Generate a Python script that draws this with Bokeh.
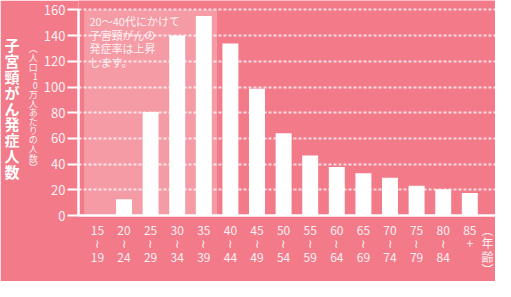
from bokeh.plotting import figure
from bokeh.models import Range1d, FixedTicker, Label, BoxAnnotation, LinearAxis
from bokeh.embed import file_html
from bokeh.resources import INLINE

# ---- data ----
age_from = ["15", "20", "25", "30", "35", "40", "45", "50", "55", "60", "65", "70", "75", "80", "85"]
age_to = ["19", "24", "29", "34", "39", "44", "49", "54", "59", "64", "69", "74", "79", "84", "+"]
incidence = [0.2, 12.6, 80.6, 140.1, 155.4, 133.9, 98.6, 64.0, 46.7, 37.7, 32.9, 29.4, 23.2, 20.4, 17.6]
y_ticks = [0, 20, 40, 60, 80, 100, 120, 140, 160]
highlight = ["15", "20", "25", "30", "35"]
note_lines = ["20〜40代にかけて", "子宮頸がんの", "発症率は上昇", "します。"]
y_title = "子宮頸がん発症人数"
y_subtitle = ["︵", "人", "口", "1", "0", "万", "人", "あ", "た", "り", "の", "人", "数", "︶"]
x_title = ["︵", "年", "齢", "︶"]

BG = "#F27A89"
TXT = "#FFF1F3"
FONT = "Noto Sans CJK JP"

W, H = 495, 281
FRAME_L, FRAME_T = 78, 0
MB_BOTTOM = 54
FRAME_W = W - FRAME_L
FRAME_H = H - MB_BOTTOM
STEP = 26.6                      # pixels per age group
X0 = -(5.6 + STEP / 2) / STEP
X1 = X0 + FRAME_W / STEP
Y0 = 0
Y1 = 160 + 10 * 160 / (FRAME_H - 10)   # 160 line 10px below the top


def dx(px):
    return X0 + (px - FRAME_L) * (X1 - X0) / FRAME_W


def dy(py):
    return Y1 - (py - FRAME_T) * (Y1 - Y0) / FRAME_H


xs = list(range(len(age_from)))
labels = {}
for i, (a, b) in enumerate(zip(age_from, age_to)):
    labels[i] = a + "\n" + ("≀\n" + b if b != "+" else b)
x_title_pos = dx(487)
labels[x_title_pos] = "\n".join(x_title)

p = figure(width=W, height=H, x_range=Range1d(X0, X1), y_range=Range1d(Y0, Y1),
           output_backend="svg", toolbar_location=None,
           min_border_left=FRAME_L, min_border_right=0, min_border_top=FRAME_T,
           min_border_bottom=MB_BOTTOM,
           background_fill_color=BG, border_fill_color=BG, outline_line_color=None)

# grid
p.xgrid.visible = False
p.ygrid.ticker = FixedTicker(ticks=y_ticks[1:])
p.ygrid.grid_line_color = "white"
p.ygrid.grid_line_alpha = 0.75
p.ygrid.grid_line_width = 2
p.ygrid.grid_line_dash = "3 2"

# highlighted age band
hi_idx = [age_from.index(h) for h in highlight]
p.add_layout(BoxAnnotation(left=min(hi_idx) - 0.5, right=max(hi_idx) + 0.5,
                           bottom=0, top=y_ticks[-1], fill_color="white", fill_alpha=0.25,
                           line_color=None, level="underlay"))

# bars
p.vbar(x=xs, top=incidence, width=0.6, fill_color="white", line_color=None)

# y axis (ticks + subtitle as its label)
ya = p.yaxis[0]
ya.ticker = FixedTicker(ticks=y_ticks)
ya.bounds = (y_ticks[0], y_ticks[-1])
ya.axis_line_color = "white"
ya.axis_line_width = 2.5
ya.major_tick_line_color = "white"
ya.major_tick_line_width = 2
ya.major_tick_out = 11
ya.major_tick_in = 0
ya.minor_tick_line_color = None
ya.major_label_standoff = 2
ya.major_label_text_font = FONT
ya.major_label_text_font_size = "13px"
ya.major_label_text_color = TXT
ya.axis_label = "\n".join(y_subtitle)
ya.axis_label_orientation = "horizontal"
ya.axis_label_standoff = 3
ya.axis_label_text_font = FONT
ya.axis_label_text_font_size = "9px"
ya.axis_label_text_font_style = "normal"
ya.axis_label_text_line_height = 0.7
ya.axis_label_text_color = TXT

# outer left axis carrying the main title
ta = LinearAxis(ticker=FixedTicker(ticks=[]), axis_line_color=None,
                major_tick_line_color=None, minor_tick_line_color=None,
                axis_label="\n".join(y_title), axis_label_orientation="horizontal",
                axis_label_standoff=6, axis_label_text_font=FONT,
                axis_label_text_font_size="15px", axis_label_text_font_style="bold",
                axis_label_text_line_height=0.76, axis_label_text_color="white")
p.add_layout(ta, "left")

# x axis (age groups + vertical axis title as an extra label at the right end)
xa = p.xaxis[0]
xa.ticker = FixedTicker(ticks=xs + [x_title_pos])
xa.major_label_overrides = labels
xa.axis_line_color = "white"
xa.axis_line_width = 2.5
xa.major_tick_line_color = None
xa.major_tick_out = 0
xa.major_tick_in = 0
xa.minor_tick_line_color = None
xa.major_label_standoff = 5
xa.major_label_text_font = FONT
xa.major_label_text_font_size = "12px"
xa.major_label_text_line_height = 0.8
xa.major_label_text_color = TXT

# note inside the highlighted band
p.add_layout(Label(x=dx(89), y=dy(13), text="\n".join(note_lines),
                   text_align="left", text_baseline="top", text_line_height=0.86,
                   text_font=FONT, text_font_size="11px", text_color=TXT))

open("out.html", "w").write(file_html(p, INLINE))
